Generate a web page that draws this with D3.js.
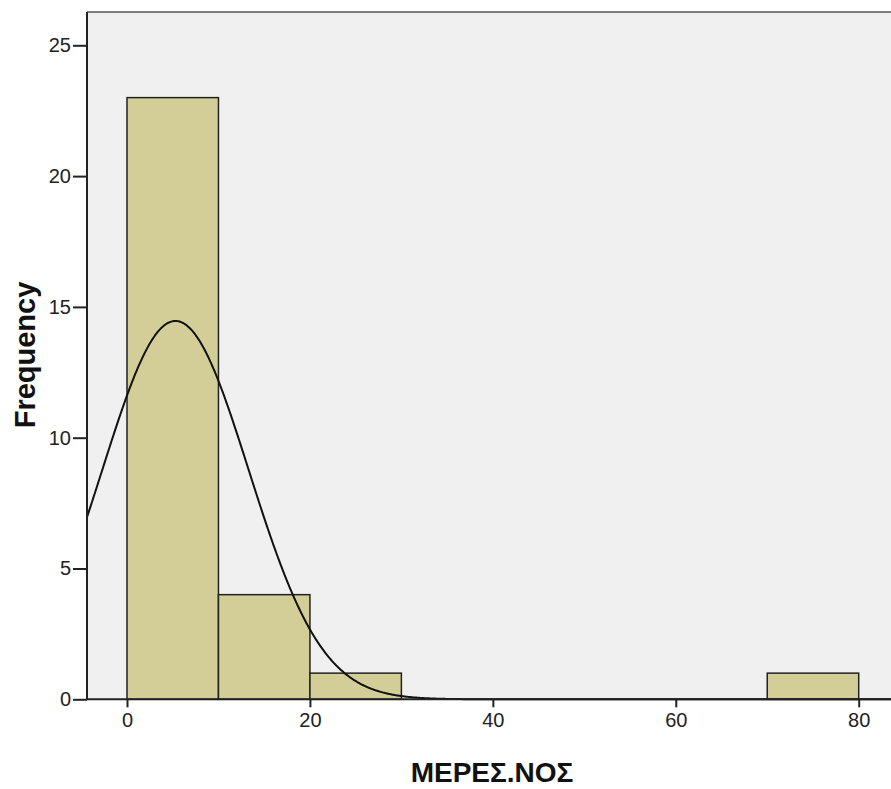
<!DOCTYPE html>
<html>
<head>
<meta charset="utf-8">
<script src="https://cdn.jsdelivr.net/npm/d3@7"></script>
<style>
  html, body { margin: 0; padding: 0; background: #ffffff; }
  svg { display: block; }
</style>
</head>
<body>
<svg id="chart" width="891" height="789"></svg>
<script>
// ---- data ----
const binStarts = [0, 10, 20, 70];
const binEnds   = [10, 20, 30, 80];
const counts    = [23, 4, 1, 1];
const xTicks = [0, 20, 40, 60, 80];
const yTicks = [0, 5, 10, 15, 20, 25];
const xTitle = "ΜΕΡΕΣ.ΝΟΣ";
const yTitle = "Frequency";
// normal curve parameters (as reported for the fitted curve)
const curveMean = 5.3;
const curveSD = 8.0;
const curveN = 29;
const binWidth = 10;

const svg = d3.select("#chart");

const x = d3.scaleLinear().domain([0, 80]).range([127, 858.7]);
const y = d3.scaleLinear().domain([0, 25]).range([699.3, 45.3]);

const xMin = x.invert(87), xMax = x.invert(905);
const yMax = y.invert(12);

const plotL = x(xMin), plotR = x(xMax), plotT = y(yMax), plotB = y(0);

// background
svg.append("rect")
  .attr("x", plotL).attr("y", plotT)
  .attr("width", plotR - plotL).attr("height", plotB - plotT)
  .attr("fill", "#f0f0f0");

// top border
svg.append("line")
  .attr("x1", plotL).attr("x2", plotR)
  .attr("y1", plotT).attr("y2", plotT)
  .attr("stroke", "#555").attr("stroke-width", 1.5);

// bars
const bins = binStarts.map((s, i) => ({ x0: s, x1: binEnds[i], n: counts[i] }));
svg.append("g").selectAll("rect").data(bins).join("rect")
  .attr("x", d => x(d.x0))
  .attr("y", d => y(d.n))
  .attr("width", d => x(d.x1) - x(d.x0))
  .attr("height", d => y(0) - y(d.n))
  .attr("fill", "#d3ce98")
  .attr("stroke", "#222")
  .attr("stroke-width", 1.5);

// normal curve
const pdf = v => curveN * binWidth / (curveSD * Math.sqrt(2 * Math.PI)) *
  Math.exp(-0.5 * Math.pow((v - curveMean) / curveSD, 2));
const pts = d3.range(xMin, xMax, 0.1).map(v => [v, pdf(v)]);
svg.append("path")
  .datum(pts)
  .attr("fill", "none")
  .attr("stroke", "#111")
  .attr("stroke-width", 2)
  .attr("d", d3.line().x(d => x(d[0])).y(d => y(d[1])).curve(d3.curveMonotoneX));

// axes
const xAxis = d3.axisBottom(x).tickValues(xTicks).tickSize(8).tickSizeOuter(0).tickPadding(6);
const gx = svg.append("g").attr("transform", `translate(0,${plotB})`).call(xAxis);
gx.select(".domain").remove();
gx.append("line").attr("x1", plotL).attr("x2", plotR).attr("stroke", "#222").attr("stroke-width", 2);
gx.selectAll(".tick line").attr("stroke", "#222").attr("stroke-width", 2);
gx.selectAll(".tick text")
  .attr("fill", "#222")
  .style("font-family", "'Liberation Sans', Arial, sans-serif")
  .style("font-size", "20px");

const yAxis = d3.axisLeft(y).tickValues(yTicks).tickSize(14).tickSizeOuter(0).tickPadding(2);
const gy = svg.append("g").attr("transform", `translate(${plotL},0)`).call(yAxis);
gy.select(".domain").remove();
gy.append("line").attr("y1", plotT).attr("y2", plotB).attr("stroke", "#222").attr("stroke-width", 2);
gy.selectAll(".tick line").attr("stroke", "#222").attr("stroke-width", 2).attr("x2", -14);
gy.selectAll(".tick text")
  .attr("fill", "#222")
  .style("font-family", "'Liberation Sans', Arial, sans-serif")
  .style("font-size", "20px");

// titles
svg.append("text")
  .attr("x", 492).attr("y", 782)
  .attr("text-anchor", "middle")
  .style("font-family", "'Liberation Sans', Arial, sans-serif")
  .style("font-weight", "bold")
  .style("font-size", "28px")
  .attr("fill", "#111")
  .text(xTitle);

svg.append("text")
  .attr("transform", `translate(35,355) rotate(-90)`)
  .attr("text-anchor", "middle")
  .style("font-family", "'Liberation Sans', Arial, sans-serif")
  .style("font-weight", "bold")
  .style("font-size", "29px")
  .attr("fill", "#111")
  .text(yTitle);
</script>
</body>
</html>
